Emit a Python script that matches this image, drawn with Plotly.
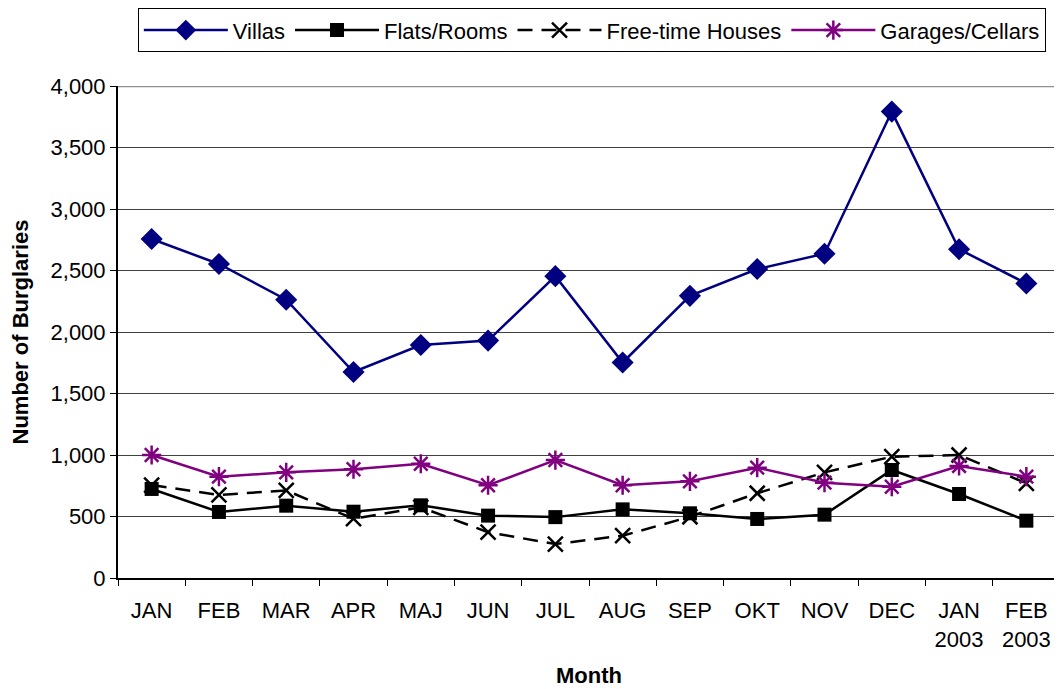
import plotly.graph_objects as go

months = ["JAN", "FEB", "MAR", "APR", "MAJ", "JUN", "JUL", "AUG", "SEP", "OKT",
          "NOV", "DEC", "JAN<br>2003", "FEB<br>2003"]
villas = [2756, 2553, 2262, 1675, 1894, 1930, 2454, 1752, 2294, 2512, 2636, 3792, 2673, 2394]
flats = [724, 537, 588, 539, 591, 507, 495, 558, 526, 480, 515, 878, 683, 466]
freetime = [756, 675, 712, 482, 575, 372, 276, 344, 498, 689, 859, 986, 1000, 770]
garages = [1000, 824, 859, 884, 929, 754, 959, 754, 786, 897, 775, 742, 911, 824]

fig = go.Figure()
fig.add_trace(go.Scatter(x=months, y=villas, name="Villas", mode="lines+markers",
                         line=dict(color="#000080", width=2.5),
                         marker=dict(symbol="diamond", size=17, color="#000080")))
fig.add_trace(go.Scatter(x=months, y=flats, name="Flats/Rooms", mode="lines+markers",
                         line=dict(color="black", width=2.5),
                         marker=dict(symbol="square", size=14, color="black")))
fig.add_trace(go.Scatter(x=months, y=freetime, name="Free-time Houses", mode="lines+markers",
                         line=dict(color="black", width=2.5, dash="15px,9px"),
                         marker=dict(symbol="x-thin-open", size=15, color="black",
                                     line=dict(color="black", width=2.5))))
fig.add_trace(go.Scatter(x=months, y=garages, name="Garages/Cellars", mode="lines+markers",
                         line=dict(color="#800080", width=2.5),
                         marker=dict(symbol="asterisk-open", size=16, color="#800080",
                                     line=dict(color="#800080", width=2.5))))

fig.update_layout(
    width=1054, height=681,
    margin=dict(l=110, r=2, t=78, b=111, autoexpand=False),
    paper_bgcolor="white", plot_bgcolor="white",
    font=dict(family="Liberation Sans, Arial, sans-serif", size=22, color="black"),
    showlegend=True,
    legend=dict(orientation="h", x=0.503, xanchor="center", y=1.158, yanchor="top",
                bordercolor="black", borderwidth=1, bgcolor="white",
                font=dict(size=22), itemwidth=84, tracegroupgap=0),
    xaxis=dict(type="category", range=[-0.5, 13.5], showline=True, linecolor="black",
               linewidth=2, ticks="outside", tickson="boundaries", ticklen=6,
               tickcolor="black", showgrid=False, automargin=False, ticklabelstandoff=12),
    yaxis=dict(range=[0, 4000], tickvals=[0, 500, 1000, 1500, 2000, 2500, 3000, 3500, 4000],
               tickformat=",d", showline=True, linecolor="black", linewidth=2,
               ticks="outside", ticklen=6, tickcolor="black", automargin=False,
               showgrid=True, gridcolor="#404040", gridwidth=1, zeroline=False,
               title=dict(text="<b>Number of Burglaries</b>", font=dict(size=22), standoff=20)),
    annotations=[dict(text="<b>Month</b>", xref="paper", yref="paper", x=0.5, y=-0.199,
                      xanchor="center", yanchor="middle", showarrow=False,
                      font=dict(size=22))],
)
fig.add_shape(type="line", xref="paper", yref="y", x0=0, x1=1, y0=4000, y1=4000,
              line=dict(color="#909090", width=2.5))

fig.write_html("out.html")
